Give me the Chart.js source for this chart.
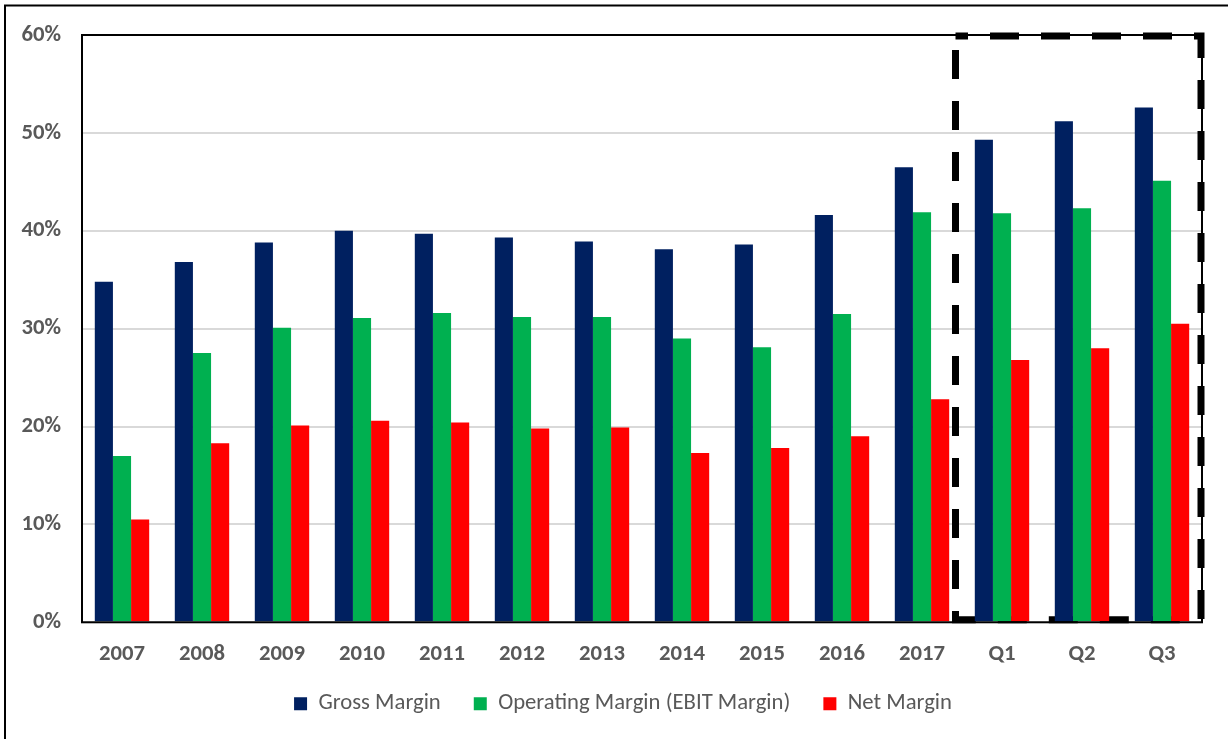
<!DOCTYPE html>
<html>
<head>
<meta charset="utf-8">
<title>Margins</title>
<script src="https://cdn.jsdelivr.net/npm/chart.js@4.4.0/dist/chart.umd.min.js"></script>
<style>
  html, body { margin: 0; padding: 0; background: #fff; overflow: hidden; }
  .chart-wrap { position: relative; width: 1228px; height: 739px; }
</style>
</head>
<body>
<div class="chart-wrap"><canvas id="chart"></canvas></div>
<script>
const periods = ['2007', '2008', '2009', '2010', '2011', '2012', '2013', '2014', '2015', '2016', '2017', 'Q1', 'Q2', 'Q3'];
const grossMargin = [34.8, 36.8, 38.8, 40.0, 39.7, 39.3, 38.9, 38.1, 38.6, 41.6, 46.5, 49.3, 51.2, 52.6];
const operatingMargin = [17.0, 27.5, 30.1, 31.1, 31.6, 31.2, 31.2, 29.0, 28.1, 31.5, 41.9, 41.8, 42.3, 45.1];
const netMargin = [10.5, 18.3, 20.1, 20.6, 20.4, 19.8, 19.9, 17.3, 17.8, 19.0, 22.8, 26.8, 28.0, 30.5];
const yTicks = [0, 10, 20, 30, 40, 50, 60];

const TEXT_GREY = '#595959';
const FONT_FAMILY = 'Carlito, Lato, sans-serif';
const TICK_FONT = { family: FONT_FAMILY, size: 22.7, weight: 'bold' };
const LEGEND_FONT = { family: FONT_FAMILY, size: 22.7 };

// first index of the quarterly block that gets the dashed frame
const quarterStart = periods.indexOf('Q1');

// page frame, plot border and the dashed box around the quarters
const framePlugin = {
  id: 'frames',
  afterLayout(chart) {
    // legend sits a little right of centre and closer to the axis labels
    const lg = chart.legend;
    lg.left += 22;
    lg.right += 22;
    lg.top -= 9;
    lg.bottom -= 9;
  },
  beforeDatasetsDraw(chart) {
    const { ctx, chartArea, scales } = chart;
    const x = scales.x;
    const left = (x.getPixelForValue(quarterStart - 1) + x.getPixelForValue(quarterStart)) / 2 - 6.5;
    const right = chartArea.right - 1;
    const top = chartArea.top + 1;
    const bottom = chartArea.bottom - 2.5;

    ctx.save();
    ctx.strokeStyle = '#000';
    ctx.lineWidth = 7;
    ctx.lineCap = 'butt';
    ctx.lineJoin = 'miter';
    ctx.setLineDash([29, 22]);
    ctx.lineDashOffset = 16.5;
    ctx.beginPath();
    ctx.moveTo(left, top);
    ctx.lineTo(right, top);
    ctx.lineTo(right, bottom);
    ctx.lineTo(left, bottom);
    ctx.closePath();
    ctx.stroke();
    ctx.restore();
  },
  afterDraw(chart) {
    const { ctx, chartArea } = chart;
    ctx.save();
    ctx.strokeStyle = '#000';
    ctx.lineWidth = 2;
    ctx.strokeRect(chartArea.left, chartArea.top, chartArea.right - chartArea.left, chartArea.bottom - chartArea.top);
    ctx.strokeRect(5, 5.5, chart.width + 40, chart.height + 40);
    ctx.restore();
  }
};

const datasets = [
  { label: 'Gross Margin', data: grossMargin, backgroundColor: '#002060' },
  { label: 'Operating Margin (EBIT Margin)', data: operatingMargin, backgroundColor: '#00B050' },
  { label: 'Net Margin', data: netMargin, backgroundColor: '#FF0000' }
].map(d => ({ ...d, categoryPercentage: 0.68, barPercentage: 1.0, borderWidth: 0 }));

function drawChart() {
  new Chart(document.getElementById('chart'), {
    type: 'bar',
    data: { labels: periods, datasets },
    options: {
      responsive: true,
      maintainAspectRatio: false,
      animation: false,
      layout: { padding: { top: 35, right: 26, bottom: 5, left: 0 } },
      plugins: {
        tooltip: { enabled: false },
        legend: {
          position: 'bottom',
          labels: {
            boxWidth: 13,
            boxHeight: 13,
            padding: 33,
            color: TEXT_GREY,
            font: LEGEND_FONT
          }
        }
      },
      scales: {
        x: {
          grid: { display: false },
          border: { display: false },
          ticks: {
            color: TEXT_GREY,
            font: TICK_FONT,
            padding: 10,
            maxRotation: 0,
            autoSkip: false
          },
          afterFit(scale) { scale.height = 46; }
        },
        y: {
          min: 0,
          max: 60,
          afterBuildTicks(scale) { scale.ticks = yTicks.map(v => ({ value: v })); },
          grid: { color: '#D9D9D9', lineWidth: 2, drawTicks: false },
          border: { display: false },
          ticks: {
            color: TEXT_GREY,
            font: TICK_FONT,
            padding: 21,
            callback: v => v + '%'
          },
          afterFit(scale) { scale.width = 82; }
        }
      }
    },
    plugins: [framePlugin]
  });
}

// canvas text only picks up fonts that are already loaded
Promise.all([
  document.fonts.load('bold 23px Carlito', 'Q0%'),
  document.fonts.load('23px Carlito', 'Gross')
]).then(drawChart, drawChart);
</script>
</body>
</html>
